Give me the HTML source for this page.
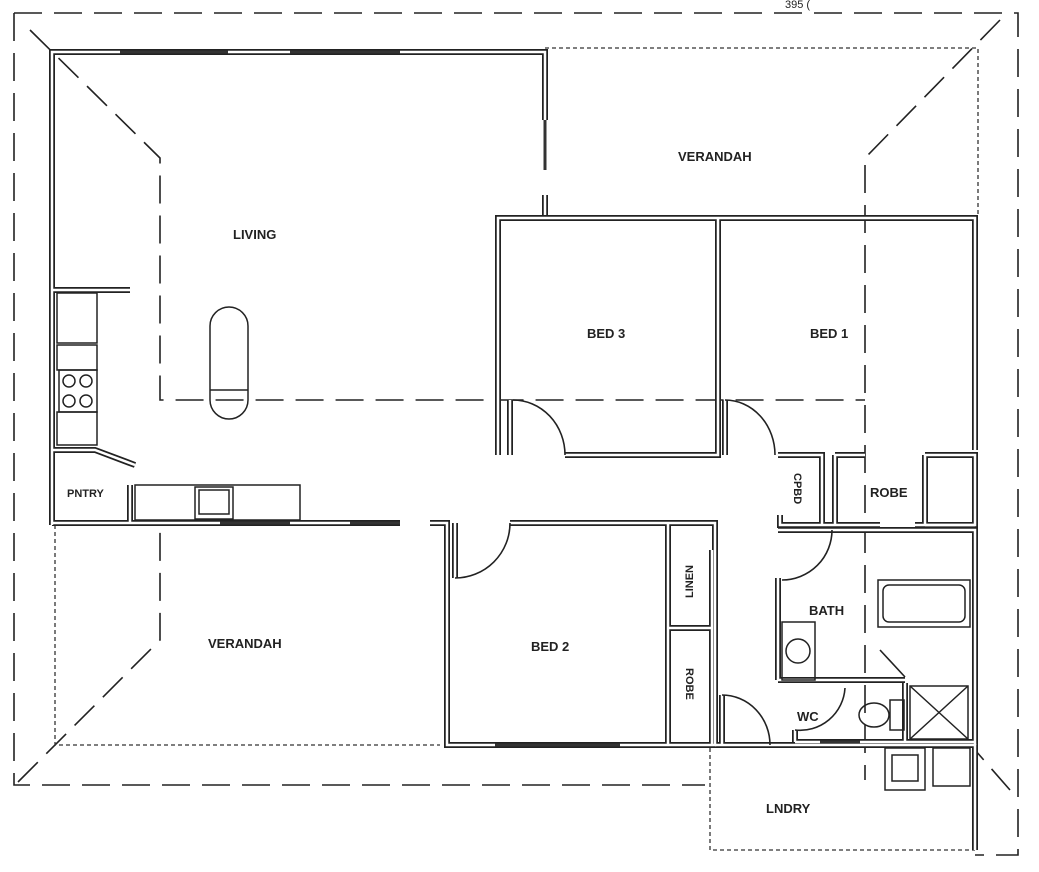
<!DOCTYPE html>
<html><head><meta charset="utf-8"><style>
html,body{margin:0;padding:0;background:#fff}
svg{display:block}
text{font-family:"Liberation Sans",sans-serif;font-weight:bold;fill:#222;font-size:13px}
</style></head><body>
<svg width="1039" height="872" viewBox="0 0 1039 872" xmlns="http://www.w3.org/2000/svg">
<defs>
<g id="walls" fill="none">
<path d="M52,525 V52 H545 V120"/>
<path d="M545,195 V215"/>
<path d="M52,523 H400"/>
<path d="M52,290 H130"/>
<path d="M52,450 H95 L135,465"/>
<path d="M130,485 V523"/>
<path d="M498,455 V218 H975 V450"/>
<path d="M510,455 V400"/>
<path d="M565,455 H718 V218"/>
<path d="M725,400 V455"/>
<path d="M778,455 H822 V525 M780,515 V525 H822"/>
<path d="M835,455 H865 M835,455 V525 M925,455 H975 V525 H925 M925,455 V525"/>
<path d="M822,525 H880 M915,525 H975"/>
<path d="M430,523 H447 V745 H715 V523 H510"/>
<path d="M455,523 V578"/>
<path d="M668,523 V745 M712,550 V745 M668,628 H712"/>
<path d="M722,745 V695"/>
<path d="M778,680 V578 M778,530 H975 V745"/>
<path d="M778,680 H905 M795,742 H975 M795,742 V730"/>
<path d="M905,683 V742"/>
<path d="M715,745 H975 V850"/>
</g>
</defs>
<!-- roof dashed -->
<g stroke="#222" stroke-width="1.6" fill="none" stroke-dasharray="28,12">
<path d="M14,13 H1000 L1018,13 V855 H975"/>
<path d="M14,13 V785 H705"/>
<path d="M30,30 L160,158 V400 H865"/>
<path d="M1000,20 L865,158 V780"/>
<path d="M18,782 L160,640 V525"/>
<path d="M1010,790 L975,750"/>
</g>
<!-- verandah dotted outlines -->
<g stroke="#333" stroke-width="1.3" fill="none" stroke-dasharray="4,3">
<path d="M545,48 H978 V215"/>
<path d="M55,525 V745 H440"/>
<path d="M710,748 V850 H975"/>
</g>
<use href="#walls" stroke="#222" stroke-width="6"/>
<use href="#walls" stroke="#fff" stroke-width="2.5"/>
<!-- windows -->
<g stroke="#333" stroke-width="3">
<path d="M120,52 H228 M290,52 H400 M545,120 V170 M220,523 H290 M350,523 H400 M495,745 H620 M820,742 H860"/>
</g>
<!-- door arcs -->
<g stroke="#222" stroke-width="1.6" fill="none">
<path d="M513,400 A52,55 0 0 1 565,455"/>
<path d="M725,400 A50,55 0 0 1 775,455"/>
<path d="M455,578 A55,55 0 0 0 510,523"/>
<path d="M782,580 A50,50 0 0 0 832,530"/>
<path d="M722,695 A48,50 0 0 1 770,745"/>
<path d="M795,730 A45,45 0 0 0 845,688"/>
<path d="M880,650 L905,677"/>
</g>
<!-- fixtures -->
<g stroke="#222" stroke-width="1.5" fill="none">
<rect x="210" y="307" width="38" height="112" rx="19"/>
<path d="M210,390 H248"/>
<rect x="57" y="293" width="40" height="50"/>
<rect x="57" y="345" width="40" height="25"/>
<rect x="59" y="370" width="38" height="42"/>
<circle cx="69" cy="381" r="6"/><circle cx="86" cy="381" r="6"/><circle cx="69" cy="401" r="6"/><circle cx="86" cy="401" r="6"/>
<rect x="57" y="412" width="40" height="33"/>
<rect x="135" y="485" width="165" height="35"/>
<rect x="195" y="487" width="38" height="32"/>
<rect x="199" y="490" width="30" height="24"/>
<rect x="878" y="580" width="92" height="47"/>
<rect x="883" y="585" width="82" height="37" rx="6"/>
<rect x="782" y="622" width="33" height="58"/>
<circle cx="798" cy="651" r="12"/>
<ellipse cx="874" cy="715" rx="15" ry="12"/>
<rect x="890" y="700" width="14" height="30"/>
<rect x="910" y="686" width="58" height="53"/>
<path d="M910,686 L968,739 M968,686 L910,739"/>
<rect x="885" y="748" width="40" height="42"/>
<rect x="892" y="755" width="26" height="26"/>
<rect x="933" y="748" width="37" height="38"/>
</g>
<text x="233" y="239">LIVING</text>
<text x="678" y="161">VERANDAH</text>
<text x="587" y="338">BED 3</text>
<text x="810" y="338">BED 1</text>
<text x="67" y="497" style="font-size:11px">PNTRY</text>
<text x="208" y="648">VERANDAH</text>
<text x="531" y="651">BED 2</text>
<text x="809" y="615">BATH</text>
<text x="797" y="721">WC</text>
<text x="766" y="813">LNDRY</text>
<text x="870" y="497">ROBE</text>
<text transform="translate(794,473) rotate(90)" style="font-size:11px">CPBD</text>
<text transform="translate(693,598) rotate(-90)" style="font-size:11px">LINEN</text>
<text transform="translate(686,668) rotate(90)" style="font-size:11px">ROBE</text>
<text x="785" y="8" style="font-weight:normal;font-size:11px">395 (</text>
</svg>
</body></html>
